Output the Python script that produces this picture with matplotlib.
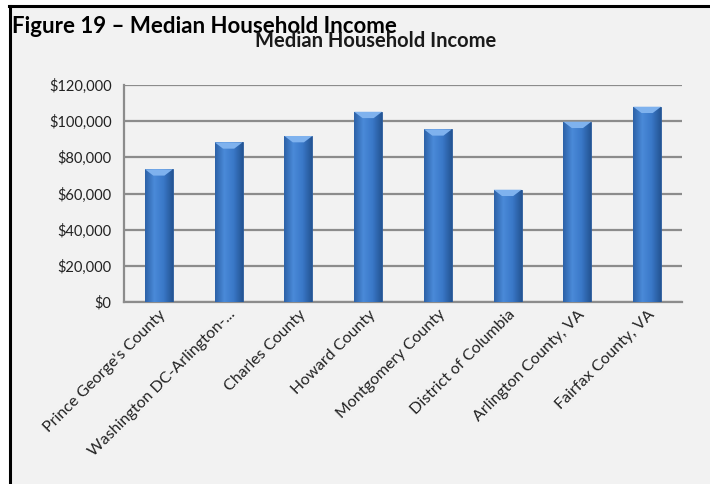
import numpy as np
import matplotlib
matplotlib.use("Agg")
import matplotlib.pyplot as plt
from matplotlib.colors import LinearSegmentedColormap
from matplotlib.lines import Line2D

# Data
counties = ["Prince George's County", "Washington DC-Arlington-...", "Charles County",
            "Howard County", "Montgomery County", "District of Columbia",
            "Arlington County, VA", "Fairfax County, VA"]
income = [73400, 88300, 91800, 105200, 95500, 62100, 99700, 108000]
yticks = [0, 20000, 40000, 60000, 80000, 100000, 120000]

plt.rcParams['font.family'] = ['Lato', 'DejaVu Sans']

fig = plt.figure(figsize=(7.10, 4.84), dpi=100)
fig.patch.set_facecolor("white")

# gray panel with black top/left border
fig.patches.append(plt.Rectangle((9/710, 0), 1, 1 - 6/484, transform=fig.transFigure,
                                 facecolor="#f2f2f2", edgecolor="none", zorder=-2))
fig.add_artist(Line2D([9/710, 1], [1 - 6/484, 1 - 6/484], transform=fig.transFigure,
                      color="black", lw=2.2))
fig.add_artist(Line2D([10/710, 10/710], [0, 1 - 6/484], transform=fig.transFigure,
                      color="black", lw=2.2))

ax = fig.add_axes([124/710, 1 - 302/484, 558/710, 217/484])
ax.set_facecolor("#f2f2f2")

x = np.arange(len(counties))
bars = ax.bar(x, income, width=0.4, color="#3a78c8", edgecolor="#2a5a9a", linewidth=0.6, zorder=3)

# gradient shading on each bar
cmap = LinearSegmentedColormap.from_list("bar", ["#2d62a8", "#4a8ad8", "#3a78c8", "#245594"])
grad = np.linspace(0, 1, 64).reshape(1, -1)
for b in bars:
    x0, y0 = b.get_x(), b.get_y()
    w, h = b.get_width(), b.get_height()
    im = ax.imshow(grad, extent=[x0, x0 + w, y0, y0 + h], cmap=cmap, aspect="auto", zorder=3.5)
    im.set_clip_path(b)
    # light bevel on top
    ax.fill([x0, x0 + w, x0 + w * 0.7, x0 + w * 0.3], [h, h, h - 3500, h - 3500],
            color="#7fb2ee", zorder=4, lw=0)

ax.set_xlim(-0.5, len(counties) - 0.5)
ax.set_ylim(0, 120000)
ax.set_yticks(yticks)
ax.set_yticklabels(["${:,}".format(v) for v in yticks], fontsize=10.5, color="#222222")
ax.yaxis.grid(True, color="#8c8c8c", linewidth=1.6, zorder=0)
ax.set_axisbelow(True)
ax.tick_params(axis="y", length=0, pad=9)
ax.tick_params(axis="x", length=0, pad=4)
ax.set_xticks(x)
ax.set_xticklabels(counties, rotation=45, ha="right", rotation_mode="anchor",
                   fontsize=11.5, color="#222222")
for s in ["top", "right"]:
    ax.spines[s].set_visible(False)
ax.spines["left"].set_color("#8c8c8c")
ax.spines["left"].set_linewidth(1.6)
ax.spines["bottom"].set_color("#8c8c8c")
ax.spines["bottom"].set_linewidth(1.6)

fig.text(12/710, 1 - 33/484, "Figure 19 \u2013 Median Household Income", fontsize=16,
         fontweight="bold", color="black", va="baseline", ha="left")
fig.text(376/710, 1 - 47/484, "Median Household Income", fontsize=14.5,
         fontweight="bold", color="#1a1a1a", va="baseline", ha="center")

fig.savefig("out.png", dpi=100)
